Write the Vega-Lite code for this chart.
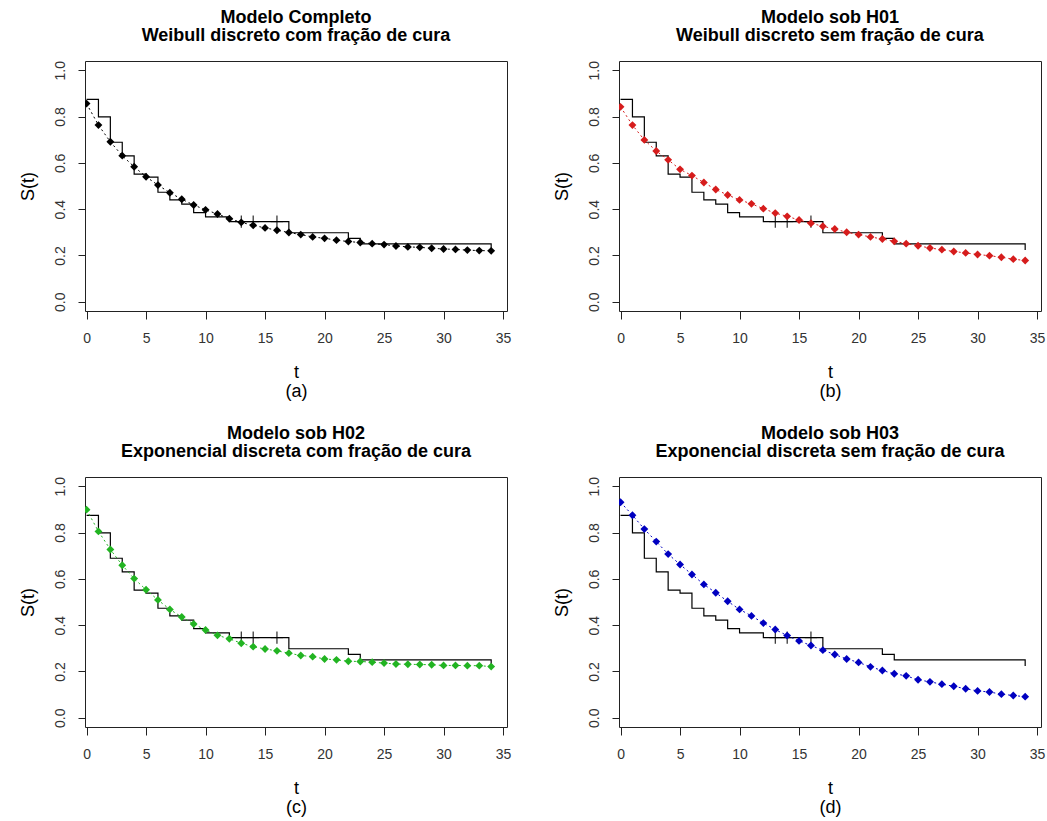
{
  "$schema": "https://vega.github.io/schema/vega-lite/v6.json",
  "autosize": {"type": "none"},
  "padding": {"left": 85, "top": 61, "right": 962, "bottom": 760},
  "background": "white",
  "config": {
    "font": "Liberation Sans",
    "view": {"stroke": "#222222", "strokeWidth": 1},
    "axis": {"grid": false, "domain": false, "tickColor": "#222222", "tickWidth": 1, "labelFont": "Liberation Sans", "labelFontSize": 14, "labelColor": "#333333", "titleFont": "Liberation Sans", "titleFontSize": 18, "titleFontWeight": "normal", "titleColor": "#000000"},
    "axisX": {"tickSize": 8, "labelPadding": 12, "titlePadding": 18.5, "titleLineHeight": 19, "labelFlush": false},
    "axisY": {"tickSize": 7, "labelAngle": -90, "labelAlign": "center", "labelBaseline": "bottom", "labelPadding": 11, "titlePadding": 16, "labelFlush": false},
    "title": {"font": "Liberation Sans", "fontSize": 18, "fontWeight": "bold", "anchor": "middle", "frame": "group", "offset": 16, "lineHeight": 18, "color": "#000000"}
  },
  "datasets": {
    "km": [
      {"t": 0, "S": 0.874}, {"t": 1, "S": 0.799}, {"t": 2, "S": 0.689}, {"t": 3, "S": 0.630},
      {"t": 4, "S": 0.551}, {"t": 5, "S": 0.538}, {"t": 6, "S": 0.473}, {"t": 7, "S": 0.440},
      {"t": 8, "S": 0.422}, {"t": 9, "S": 0.385}, {"t": 10, "S": 0.367}, {"t": 12, "S": 0.346},
      {"t": 17, "S": 0.298}, {"t": 22, "S": 0.274}, {"t": 23, "S": 0.250}, {"t": 34, "S": 0.224}
    ],
    "cens": [
      {"t": 13, "S": 0.346}, {"t": 14, "S": 0.346}, {"t": 16, "S": 0.346}
    ],
    "fit": [
      {"p": "a", "t": 0, "S": 0.856}, {"p": "a", "t": 1, "S": 0.763}, {"p": "a", "t": 2, "S": 0.691}, {"p": "a", "t": 3, "S": 0.631}, {"p": "a", "t": 4, "S": 0.583}, {"p": "a", "t": 5, "S": 0.540}, {"p": "a", "t": 6, "S": 0.504}, {"p": "a", "t": 7, "S": 0.471}, {"p": "a", "t": 8, "S": 0.443}, {"p": "a", "t": 9, "S": 0.418}, {"p": "a", "t": 10, "S": 0.397}, {"p": "a", "t": 11, "S": 0.379}, {"p": "a", "t": 12, "S": 0.359}, {"p": "a", "t": 13, "S": 0.343}, {"p": "a", "t": 14, "S": 0.330}, {"p": "a", "t": 15, "S": 0.319}, {"p": "a", "t": 16, "S": 0.309}, {"p": "a", "t": 17, "S": 0.299}, {"p": "a", "t": 18, "S": 0.290}, {"p": "a", "t": 19, "S": 0.280}, {"p": "a", "t": 20, "S": 0.274}, {"p": "a", "t": 21, "S": 0.266}, {"p": "a", "t": 22, "S": 0.260}, {"p": "a", "t": 23, "S": 0.256}, {"p": "a", "t": 24, "S": 0.251}, {"p": "a", "t": 25, "S": 0.247}, {"p": "a", "t": 26, "S": 0.241}, {"p": "a", "t": 27, "S": 0.237}, {"p": "a", "t": 28, "S": 0.235}, {"p": "a", "t": 29, "S": 0.231}, {"p": "a", "t": 30, "S": 0.228}, {"p": "a", "t": 31, "S": 0.226}, {"p": "a", "t": 32, "S": 0.223}, {"p": "a", "t": 33, "S": 0.221}, {"p": "a", "t": 34, "S": 0.220},
      {"p": "b", "t": 0, "S": 0.842}, {"p": "b", "t": 1, "S": 0.763}, {"p": "b", "t": 2, "S": 0.699}, {"p": "b", "t": 3, "S": 0.651}, {"p": "b", "t": 4, "S": 0.613}, {"p": "b", "t": 5, "S": 0.572}, {"p": "b", "t": 6, "S": 0.545}, {"p": "b", "t": 7, "S": 0.515}, {"p": "b", "t": 8, "S": 0.485}, {"p": "b", "t": 9, "S": 0.461}, {"p": "b", "t": 10, "S": 0.440}, {"p": "b", "t": 11, "S": 0.423}, {"p": "b", "t": 12, "S": 0.402}, {"p": "b", "t": 13, "S": 0.383}, {"p": "b", "t": 14, "S": 0.369}, {"p": "b", "t": 15, "S": 0.353}, {"p": "b", "t": 16, "S": 0.339}, {"p": "b", "t": 17, "S": 0.326}, {"p": "b", "t": 18, "S": 0.314}, {"p": "b", "t": 19, "S": 0.300}, {"p": "b", "t": 20, "S": 0.290}, {"p": "b", "t": 21, "S": 0.280}, {"p": "b", "t": 22, "S": 0.271}, {"p": "b", "t": 23, "S": 0.261}, {"p": "b", "t": 24, "S": 0.251}, {"p": "b", "t": 25, "S": 0.242}, {"p": "b", "t": 26, "S": 0.232}, {"p": "b", "t": 27, "S": 0.225}, {"p": "b", "t": 28, "S": 0.217}, {"p": "b", "t": 29, "S": 0.211}, {"p": "b", "t": 30, "S": 0.204}, {"p": "b", "t": 31, "S": 0.199}, {"p": "b", "t": 32, "S": 0.192}, {"p": "b", "t": 33, "S": 0.184}, {"p": "b", "t": 34, "S": 0.178},
      {"p": "c", "t": 0, "S": 0.899}, {"p": "c", "t": 1, "S": 0.805}, {"p": "c", "t": 2, "S": 0.727}, {"p": "c", "t": 3, "S": 0.659}, {"p": "c", "t": 4, "S": 0.601}, {"p": "c", "t": 5, "S": 0.553}, {"p": "c", "t": 6, "S": 0.509}, {"p": "c", "t": 7, "S": 0.468}, {"p": "c", "t": 8, "S": 0.435}, {"p": "c", "t": 9, "S": 0.405}, {"p": "c", "t": 10, "S": 0.379}, {"p": "c", "t": 11, "S": 0.356}, {"p": "c", "t": 12, "S": 0.341}, {"p": "c", "t": 13, "S": 0.322}, {"p": "c", "t": 14, "S": 0.307}, {"p": "c", "t": 15, "S": 0.297}, {"p": "c", "t": 16, "S": 0.289}, {"p": "c", "t": 17, "S": 0.279}, {"p": "c", "t": 18, "S": 0.269}, {"p": "c", "t": 19, "S": 0.264}, {"p": "c", "t": 20, "S": 0.254}, {"p": "c", "t": 21, "S": 0.250}, {"p": "c", "t": 22, "S": 0.244}, {"p": "c", "t": 23, "S": 0.243}, {"p": "c", "t": 24, "S": 0.240}, {"p": "c", "t": 25, "S": 0.236}, {"p": "c", "t": 26, "S": 0.232}, {"p": "c", "t": 27, "S": 0.231}, {"p": "c", "t": 28, "S": 0.230}, {"p": "c", "t": 29, "S": 0.229}, {"p": "c", "t": 30, "S": 0.226}, {"p": "c", "t": 31, "S": 0.226}, {"p": "c", "t": 32, "S": 0.225}, {"p": "c", "t": 33, "S": 0.225}, {"p": "c", "t": 34, "S": 0.221},
      {"p": "d", "t": 0, "S": 0.931}, {"p": "d", "t": 1, "S": 0.875}, {"p": "d", "t": 2, "S": 0.815}, {"p": "d", "t": 3, "S": 0.761}, {"p": "d", "t": 4, "S": 0.707}, {"p": "d", "t": 5, "S": 0.662}, {"p": "d", "t": 6, "S": 0.619}, {"p": "d", "t": 7, "S": 0.576}, {"p": "d", "t": 8, "S": 0.540}, {"p": "d", "t": 9, "S": 0.503}, {"p": "d", "t": 10, "S": 0.468}, {"p": "d", "t": 11, "S": 0.440}, {"p": "d", "t": 12, "S": 0.409}, {"p": "d", "t": 13, "S": 0.381}, {"p": "d", "t": 14, "S": 0.355}, {"p": "d", "t": 15, "S": 0.332}, {"p": "d", "t": 16, "S": 0.312}, {"p": "d", "t": 17, "S": 0.292}, {"p": "d", "t": 18, "S": 0.273}, {"p": "d", "t": 19, "S": 0.254}, {"p": "d", "t": 20, "S": 0.239}, {"p": "d", "t": 21, "S": 0.220}, {"p": "d", "t": 22, "S": 0.204}, {"p": "d", "t": 23, "S": 0.190}, {"p": "d", "t": 24, "S": 0.181}, {"p": "d", "t": 25, "S": 0.164}, {"p": "d", "t": 26, "S": 0.155}, {"p": "d", "t": 27, "S": 0.145}, {"p": "d", "t": 28, "S": 0.136}, {"p": "d", "t": 29, "S": 0.125}, {"p": "d", "t": 30, "S": 0.116}, {"p": "d", "t": 31, "S": 0.111}, {"p": "d", "t": 32, "S": 0.102}, {"p": "d", "t": 33, "S": 0.096}, {"p": "d", "t": 34, "S": 0.091}
    ]
  },
  "columns": 2,
  "spacing": {"row": 166, "column": 112},
  "bounds": "flush",
  "concat": [
    {
      "width": 422, "height": 250,
      "title": {"text": ["Modelo Completo", "Weibull discreto com fração de cura"]},
      "encoding": {
        "x": {"field": "t", "type": "quantitative", "scale": {"domain": [-0.13, 35.33], "nice": false, "zero": false}, "axis": {"title": ["t", "(a)"], "values": [0, 5, 10, 15, 20, 25, 30, 35]}},
        "y": {"field": "S", "type": "quantitative", "scale": {"domain": [-0.04, 1.04], "nice": false, "zero": false}, "axis": {"title": "S(t)", "values": [0, 0.2, 0.4, 0.6, 0.8, 1.0], "format": ".1f"}}
      },
      "layer": [
        {"data": {"name": "km"}, "mark": {"type": "line", "interpolate": "step-after", "color": "#000000", "strokeWidth": 1.2}},
        {"data": {"name": "cens"}, "mark": {"type": "point", "shape": "M-1,0H1M0,-1V1", "filled": false, "stroke": "#000000", "strokeWidth": 1, "size": 150, "opacity": 1}},
        {"data": {"name": "fit"}, "transform": [{"filter": "datum.p === 'a'"}], "mark": {"type": "line", "color": "#000000", "strokeWidth": 1, "strokeDash": [2, 3], "clip": true}},
        {"data": {"name": "fit"}, "transform": [{"filter": "datum.p === 'a'"}], "mark": {"type": "point", "shape": "diamond", "filled": true, "size": 62, "color": "#000000", "opacity": 1, "clip": true}}
      ]
    },
    {
      "width": 422, "height": 250,
      "title": {"text": ["Modelo sob H01", "Weibull discreto sem fração de cura"]},
      "encoding": {
        "x": {"field": "t", "type": "quantitative", "scale": {"domain": [-0.13, 35.33], "nice": false, "zero": false}, "axis": {"title": ["t", "(b)"], "values": [0, 5, 10, 15, 20, 25, 30, 35]}},
        "y": {"field": "S", "type": "quantitative", "scale": {"domain": [-0.04, 1.04], "nice": false, "zero": false}, "axis": {"title": "S(t)", "values": [0, 0.2, 0.4, 0.6, 0.8, 1.0], "format": ".1f"}}
      },
      "layer": [
        {"data": {"name": "km"}, "mark": {"type": "line", "interpolate": "step-after", "color": "#000000", "strokeWidth": 1.2}},
        {"data": {"name": "cens"}, "mark": {"type": "point", "shape": "M-1,0H1M0,-1V1", "filled": false, "stroke": "#000000", "strokeWidth": 1, "size": 150, "opacity": 1}},
        {"data": {"name": "fit"}, "transform": [{"filter": "datum.p === 'b'"}], "mark": {"type": "line", "color": "#d61c1c", "strokeWidth": 1, "strokeDash": [2, 3], "clip": true}},
        {"data": {"name": "fit"}, "transform": [{"filter": "datum.p === 'b'"}], "mark": {"type": "point", "shape": "diamond", "filled": true, "size": 62, "color": "#d61c1c", "opacity": 1, "clip": true}}
      ]
    },
    {
      "width": 422, "height": 250,
      "title": {"text": ["Modelo sob H02", "Exponencial discreta com fração de cura"]},
      "encoding": {
        "x": {"field": "t", "type": "quantitative", "scale": {"domain": [-0.13, 35.33], "nice": false, "zero": false}, "axis": {"title": ["t", "(c)"], "values": [0, 5, 10, 15, 20, 25, 30, 35]}},
        "y": {"field": "S", "type": "quantitative", "scale": {"domain": [-0.04, 1.04], "nice": false, "zero": false}, "axis": {"title": "S(t)", "values": [0, 0.2, 0.4, 0.6, 0.8, 1.0], "format": ".1f"}}
      },
      "layer": [
        {"data": {"name": "km"}, "mark": {"type": "line", "interpolate": "step-after", "color": "#000000", "strokeWidth": 1.2}},
        {"data": {"name": "cens"}, "mark": {"type": "point", "shape": "M-1,0H1M0,-1V1", "filled": false, "stroke": "#000000", "strokeWidth": 1, "size": 150, "opacity": 1}},
        {"data": {"name": "fit"}, "transform": [{"filter": "datum.p === 'c'"}], "mark": {"type": "line", "color": "#22b422", "strokeWidth": 1, "strokeDash": [2, 3], "clip": true}},
        {"data": {"name": "fit"}, "transform": [{"filter": "datum.p === 'c'"}], "mark": {"type": "point", "shape": "diamond", "filled": true, "size": 62, "color": "#22b422", "opacity": 1, "clip": true}}
      ]
    },
    {
      "width": 422, "height": 250,
      "title": {"text": ["Modelo sob H03", "Exponencial discreta sem fração de cura"]},
      "encoding": {
        "x": {"field": "t", "type": "quantitative", "scale": {"domain": [-0.13, 35.33], "nice": false, "zero": false}, "axis": {"title": ["t", "(d)"], "values": [0, 5, 10, 15, 20, 25, 30, 35]}},
        "y": {"field": "S", "type": "quantitative", "scale": {"domain": [-0.04, 1.04], "nice": false, "zero": false}, "axis": {"title": "S(t)", "values": [0, 0.2, 0.4, 0.6, 0.8, 1.0], "format": ".1f"}}
      },
      "layer": [
        {"data": {"name": "km"}, "mark": {"type": "line", "interpolate": "step-after", "color": "#000000", "strokeWidth": 1.2}},
        {"data": {"name": "cens"}, "mark": {"type": "point", "shape": "M-1,0H1M0,-1V1", "filled": false, "stroke": "#000000", "strokeWidth": 1, "size": 150, "opacity": 1}},
        {"data": {"name": "fit"}, "transform": [{"filter": "datum.p === 'd'"}], "mark": {"type": "line", "color": "#0000c0", "strokeWidth": 1, "strokeDash": [2, 3], "clip": true}},
        {"data": {"name": "fit"}, "transform": [{"filter": "datum.p === 'd'"}], "mark": {"type": "point", "shape": "diamond", "filled": true, "size": 62, "color": "#0000c0", "opacity": 1, "clip": true}}
      ]
    }
  ]
}
